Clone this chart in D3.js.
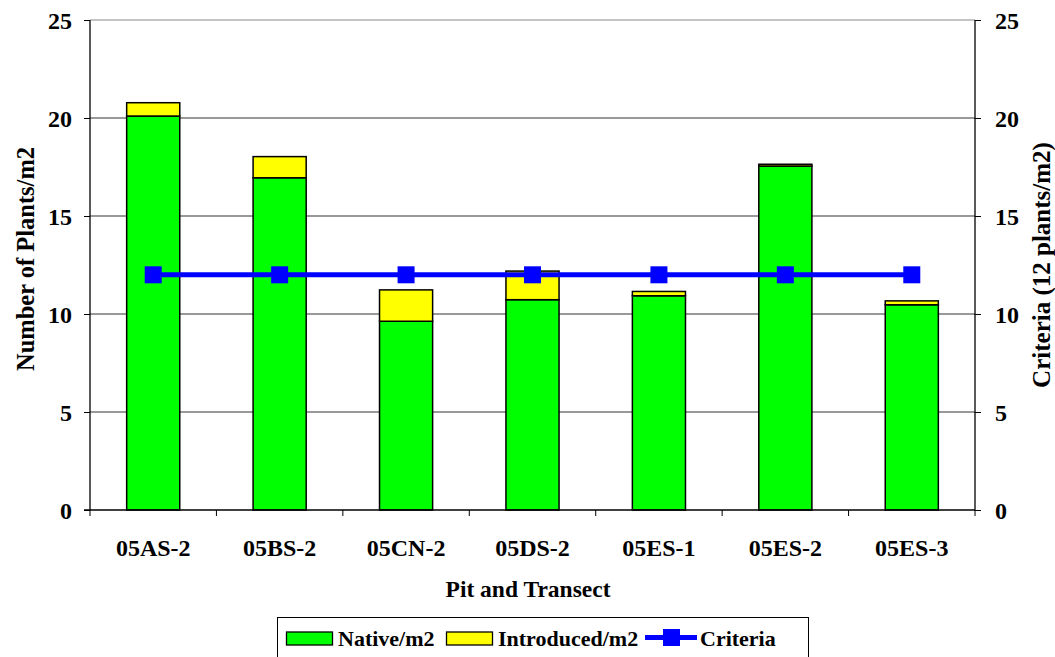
<!DOCTYPE html>
<html><head><meta charset="utf-8">
<script src="https://cdn.jsdelivr.net/npm/d3@7"></script>
<style>
body{margin:0;background:#fff;}
svg text{font-family:'Liberation Serif','Times New Roman','DejaVu Serif',serif !important;font-weight:bold;fill:#000;}
</style></head>
<body><svg id="c" width="1055" height="657"></svg>
<script>
const categories = ["05AS-2","05BS-2","05CN-2","05DS-2","05ES-1","05ES-2","05ES-3"];
const native = [20.1, 16.95, 9.63, 10.73, 10.93, 17.55, 10.47];
const introduced = [0.68, 1.08, 1.6, 1.46, 0.22, 0.09, 0.2];
const criteria = [12, 12, 12, 12, 12, 12, 12];
const yTicks = [0, 5, 10, 15, 20, 25];

const svg = d3.select("#c");
const L = 90, R = 975, T = 20, B = 510;
const x = d3.scaleBand().domain(categories).range([L, R]).paddingInner(0.58).paddingOuter(0.29);
const xb = d3.scaleBand().domain(categories).range([L, R]);
const y = d3.scaleLinear().domain([0, 25]).range([B, T]);

// gridlines
svg.append("g").selectAll("line").data(yTicks.filter(d => d > 0)).join("line")
  .attr("x1", L).attr("x2", R).attr("y1", d => y(d)).attr("y2", d => y(d))
  .attr("stroke", d => d === 25 ? "#888" : "#333").attr("stroke-width", 1);

// bars
const g = svg.append("g");
categories.forEach((c, i) => {
  g.append("rect").attr("x", x(c)).attr("width", x.bandwidth())
    .attr("y", y(native[i])).attr("height", y(0) - y(native[i]))
    .attr("fill", "#00ff00").attr("stroke", "#000").attr("stroke-width", 1.5);
  g.append("rect").attr("x", x(c)).attr("width", x.bandwidth())
    .attr("y", y(native[i] + introduced[i])).attr("height", y(native[i]) - y(native[i] + introduced[i]))
    .attr("fill", "#ffff00").attr("stroke", "#000").attr("stroke-width", 1.5);
});

const FS = 24;
// axes
const yl = svg.append("g").attr("transform", `translate(${L},0)`)
  .call(d3.axisLeft(y).tickValues(yTicks).tickSize(6).tickPadding(12));
const yr = svg.append("g").attr("transform", `translate(${R},0)`)
  .call(d3.axisRight(y).tickValues(yTicks).tickSize(6).tickPadding(14));
[yl, yr].forEach(a => {
  a.attr("font-family", null).attr("font-size", null);
  a.select(".domain").attr("stroke", "#000").attr("stroke-width", 1.3).attr("d", `M0,${T}V${B}`);
  a.selectAll(".tick line").attr("stroke", "#000");
  a.selectAll("text").style("font-size", FS + "px").attr("dy", "0.34em");
});
yr.selectAll("text").attr("text-anchor", "start");

const xa = svg.append("g").attr("transform", `translate(0,${B})`)
  .call(d3.axisBottom(x).tickSize(0).tickPadding(29));
xa.attr("font-family", null).attr("font-size", null);
xa.select(".domain").remove();
xa.selectAll("text").style("font-size", FS + "px");
svg.append("line").attr("x1", L - 6).attr("x2", R).attr("y1", B).attr("y2", B).attr("stroke", "#000").attr("stroke-width", 1.3);
svg.append("g").selectAll("line").data(categories).join("line")
  .attr("x1", d => xb(d)).attr("x2", d => xb(d)).attr("y1", B).attr("y2", B + 6).attr("stroke", "#000");
svg.append("line").attr("x1", R).attr("x2", R).attr("y1", B).attr("y2", B + 6).attr("stroke", "#000");

// criteria line
const cx = d => x(d) + x.bandwidth() / 2;
svg.append("path").datum(categories)
  .attr("d", d3.line().x(d => cx(d)).y((d, i) => y(criteria[i])))
  .attr("fill", "none").attr("stroke", "#0000ff").attr("stroke-width", 5);
svg.append("g").selectAll("rect").data(categories).join("rect")
  .attr("x", d => cx(d) - 8.5).attr("y", (d, i) => y(criteria[i]) - 8.5)
  .attr("width", 17).attr("height", 17).attr("fill", "#0000ff");

// titles
svg.append("text").attr("x", 528).attr("y", 597).attr("text-anchor", "middle")
  .style("font-size", "23.5px").text("Pit and Transect");
svg.append("text").attr("transform", `translate(34,259) rotate(-90)`).attr("text-anchor", "middle")
  .style("font-size", "24.5px").text("Number of Plants/m2");
svg.append("text").attr("transform", `translate(1050,265) rotate(-90)`).attr("text-anchor", "middle")
  .style("font-size", "25px").text("Criteria (12 plants/m2)");

// legend
const lg = svg.append("g");
lg.append("rect").attr("x", 277.5).attr("y", 617.5).attr("width", 531).attr("height", 45)
  .attr("fill", "#fff").attr("stroke", "#000").attr("stroke-width", 1);
lg.append("rect").attr("x", 286.5).attr("y", 632).attr("width", 46).attr("height", 13).attr("fill", "#00ff00").attr("stroke", "#000").attr("stroke-width", 1.3);
lg.append("text").attr("x", 338).attr("y", 646).style("font-size", "22px").text("Native/m2");
lg.append("rect").attr("x", 446.5).attr("y", 632).attr("width", 46).attr("height", 13).attr("fill", "#ffff00").attr("stroke", "#000").attr("stroke-width", 1.3);
lg.append("text").attr("x", 498).attr("y", 646).style("font-size", "22px").text("Introduced/m2");
lg.append("line").attr("x1", 645).attr("x2", 697).attr("y1", 637.5).attr("y2", 637.5).attr("stroke", "#0000ff").attr("stroke-width", 5);
lg.append("rect").attr("x", 663).attr("y", 629).attr("width", 17).attr("height", 17).attr("fill", "#0000ff");
lg.append("text").attr("x", 700).attr("y", 646).style("font-size", "22px").text("Criteria");
</script></body></html>
